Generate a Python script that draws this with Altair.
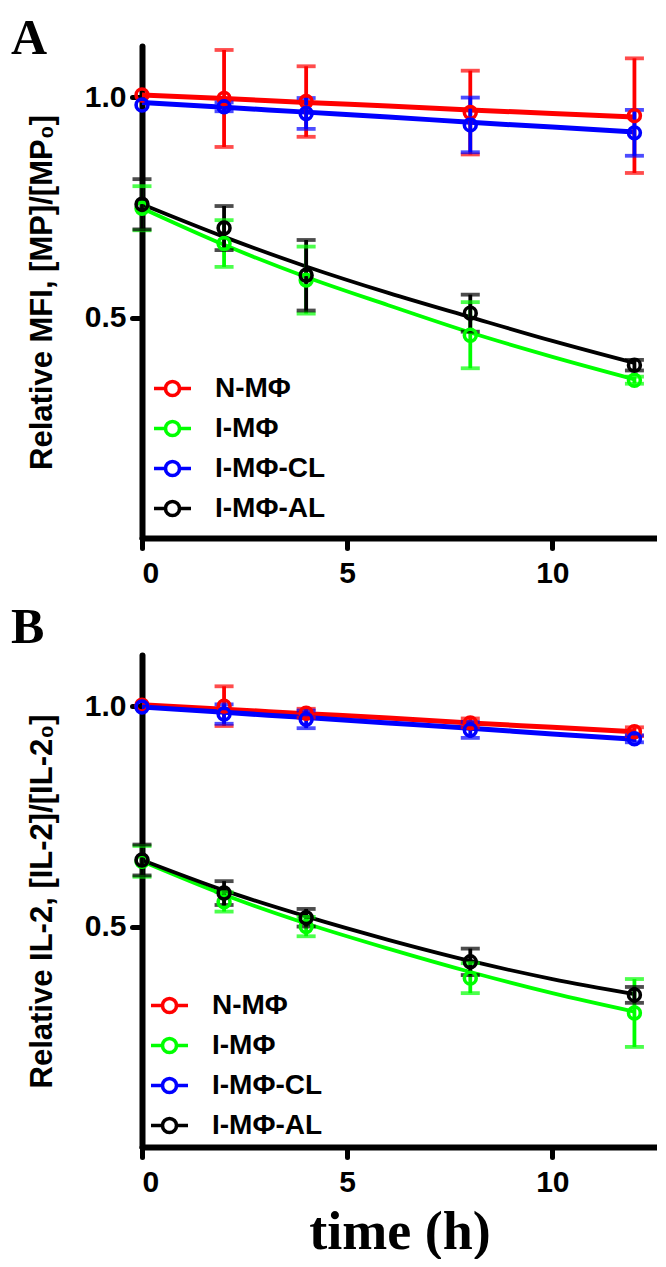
import altair as alt
import pandas as pd

series = ["N-MΦ", "I-MΦ", "I-MΦ-CL", "I-MΦ-AL"]
colors = ["#ff0000", "#00ff00", "#0000ff", "#000000"]
line_widths = [5, 3.8, 5, 3.8]

times = [0, 2, 4, 8, 12]
curve_t = [0, 2, 4, 6, 8, 10, 12]

# ---- Panel A: Relative MFI ----
a_n_mean = [1.005, 0.997, 0.990, 0.965, 0.958]
a_i_mean = [0.748, 0.668, 0.585, 0.460, 0.358]
a_cl_mean = [0.982, 0.978, 0.963, 0.937, 0.919]
a_al_mean = [0.757, 0.703, 0.596, 0.510, 0.392]

a_n_err = [0.0, 0.11, 0.08, 0.095, 0.13]
a_i_err = [0.05, 0.053, 0.076, 0.075, 0.008]
a_cl_err = [0.0, 0.01, 0.035, 0.062, 0.052]
a_al_err = [0.057, 0.05, 0.08, 0.042, 0.012]

a_n_fit = [1.005, 0.997, 0.988, 0.980, 0.971, 0.963, 0.955]
a_i_fit = [0.748, 0.665, 0.592, 0.528, 0.466, 0.411, 0.360]
a_cl_fit = [0.988, 0.977, 0.966, 0.955, 0.943, 0.932, 0.921]
a_al_fit = [0.757, 0.683, 0.616, 0.556, 0.501, 0.447, 0.397]

# ---- Panel B: Relative IL-2 ----
b_n_mean = [1.002, 1.000, 0.984, 0.962, 0.942]
b_i_mean = [0.648, 0.556, 0.500, 0.383, 0.304]
b_cl_mean = [0.998, 0.982, 0.970, 0.946, 0.926]
b_al_mean = [0.651, 0.576, 0.520, 0.420, 0.345]

b_n_err = [0.0, 0.045, 0.01, 0.01, 0.01]
b_i_err = [0.035, 0.022, 0.022, 0.034, 0.077]
b_cl_err = [0.0, 0.022, 0.02, 0.018, 0.008]
b_al_err = [0.035, 0.027, 0.02, 0.03, 0.018]

b_n_fit = [1.003, 0.993, 0.983, 0.973, 0.962, 0.952, 0.942]
b_i_fit = [0.648, 0.572, 0.507, 0.450, 0.397, 0.349, 0.307]
b_cl_fit = [0.998, 0.986, 0.974, 0.962, 0.950, 0.937, 0.925]
b_al_fit = [0.651, 0.582, 0.523, 0.470, 0.422, 0.381, 0.347]

LEGEND_PATH = ("M-1,0L-0.42,0M0.42,0L1,0"
               "M0.38,0A0.38,0.38,0,1,1,-0.38,0A0.38,0.38,0,1,1,0.38,0")

W, H = 515, 492
YMAX = 1.116
XMAX = 12.55


def build_points(means, errs):
    rows = []
    for s, col, m, e in zip(series, colors, means, errs):
        for t, v, d in zip(times, m, e):
            rows.append({"t": t, "v": v, "err": d, "lo": v - d, "hi": v + d,
                         "s": s, "col": col})
    return pd.DataFrame(rows)


def build_caps(pts):
    rows = []
    for _, r in pts.iterrows():
        if r["err"] > 0:
            rows.append({"t": r["t"], "c": r["lo"], "s": r["s"], "col": r["col"]})
            rows.append({"t": r["t"], "c": r["hi"], "s": r["s"], "col": r["col"]})
    return pd.DataFrame(rows)


def build_fit(fits):
    rows = []
    for s, col, lw, f in zip(series, colors, line_widths, fits):
        for t, v in zip(curve_t, f):
            rows.append({"t": t, "v": v, "s": s, "col": col, "lw": lw})
    return pd.DataFrame(rows)


def panel(label, label_y, means, errs, fits, ytitle, xtitle, leg_x, leg_y):
    pts = build_points(means, errs)
    caps = build_caps(pts)
    fit = build_fit(fits)

    xscale = alt.Scale(domain=[0, XMAX], nice=False, zero=False)
    yscale = alt.Scale(domain=[0, YMAX], nice=False)
    cscale = alt.Scale(domain=series, range=colors)
    xaxis = alt.Axis(values=[0, 5, 10], labelPadding=10, tickSize=10,
                     titlePadding=8, titleFont="Liberation Serif",
                     titleFontSize=54, titleFontWeight="bold")
    yaxis = alt.Axis(values=[0.5, 1.0], format=".1f", labelPadding=6,
                     tickSize=10, titlePadding=26)

    def X():
        return alt.X("t:Q", scale=xscale, axis=xaxis, title=xtitle)

    lines = alt.Chart(fit).mark_line(interpolate="monotone").encode(
        x=X(),
        y=alt.Y("v:Q", scale=yscale, axis=yaxis, title=ytitle),
        stroke=alt.Stroke("col:N", scale=None),
        strokeWidth=alt.StrokeWidth("lw:Q", scale=None),
        detail="s:N",
    )
    rules = alt.Chart(pts).mark_rule(strokeWidth=3.8).encode(
        x=X(),
        y=alt.Y("lo:Q", scale=yscale, axis=yaxis, title=ytitle),
        y2="hi:Q",
        stroke=alt.Stroke("col:N", scale=None),
    )
    capmarks = alt.Chart(caps).mark_tick(orient="horizontal", size=19, thickness=3.8).encode(
        x=X(),
        y=alt.Y("c:Q", scale=yscale, axis=yaxis, title=ytitle),
        fill=alt.Fill("col:N", scale=None),
    )
    points = alt.Chart(pts).mark_point(filled=False, shape="circle", size=140,
                                       strokeWidth=3.6, opacity=1).encode(
        x=X(),
        y=alt.Y("v:Q", scale=yscale, axis=yaxis, title=ytitle),
        color=alt.Color("s:N", scale=cscale, legend=alt.Legend(
            orient="none", legendX=leg_x, legendY=leg_y, title=None,
            symbolType=LEGEND_PATH, symbolSize=1369, symbolStrokeWidth=3.6,
            labelFont="Liberation Sans", labelFontSize=28, labelFontWeight="bold",
            labelColor="black", labelOffset=22, rowPadding=5, padding=0,
            labelLimit=300)),
    )
    lab = alt.Chart(pd.DataFrame({"lab": [label]})).mark_text(
        align="left", baseline="top", font="Liberation Serif", fontSize=50,
        fontWeight="bold", color="black").encode(
        text="lab:N", x=alt.value(-131), y=alt.value(label_y))

    return alt.layer(lab, lines, rules, capmarks, points).properties(width=W, height=H)


pa = panel("A", -32, [a_n_mean, a_i_mean, a_cl_mean, a_al_mean],
           [a_n_err, a_i_err, a_cl_err, a_al_err],
           [a_n_fit, a_i_fit, a_cl_fit, a_al_fit],
           "Relative MFI, [MP]/[MP₀]", None, 10, 322)
pb = panel("B", -52, [b_n_mean, b_i_mean, b_cl_mean, b_al_mean],
           [b_n_err, b_i_err, b_cl_err, b_al_err],
           [b_n_fit, b_i_fit, b_cl_fit, b_al_fit],
           "Relative IL-2, [IL-2]/[IL-2₀]", "time (h)", 7, 330)

chart = alt.vconcat(pa, pb, spacing=15).resolve_scale(
    color="independent", x="independent", y="independent"
).resolve_legend(color="independent").properties(
    padding={"left": 3, "top": 6, "right": 0, "bottom": 0}, background="white"
).configure_view(strokeWidth=0).configure_axis(
    domainColor="black", domainWidth=6, domainCap="round",
    tickColor="black", tickWidth=5, tickCap="round",
    labelFont="Liberation Sans", labelFontSize=30, labelFontWeight="bold",
    labelColor="black", grid=False,
    titleFont="Liberation Sans", titleFontSize=31, titleFontWeight="bold",
    titleColor="black",
)

chart.save("out.html", embed_options={"renderer": "svg", "actions": False})
